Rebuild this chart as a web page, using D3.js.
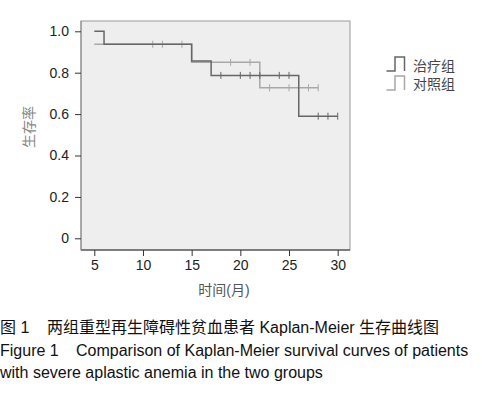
<!DOCTYPE html>
<html><head><meta charset="utf-8">
<script src="https://cdn.jsdelivr.net/npm/d3@7"></script>
<style>body{margin:0;background:#fff}svg{display:block}</style>
</head><body>
<script>
// ---- data ----
const groups = ["治疗组", "对照组"];
const treatStartT = 5, treatEndT = 30;
const treatEventTimes = [6, 15, 17, 26];
const treatSurvival = [1.0, 0.9375, 0.857, 0.787, 0.59];
const treatCensor = [18, 20, 21, 22, 24, 25, 28, 29, 30];
const ctrlStartT = 5, ctrlEndT = 28;
const ctrlEventTimes = [15, 22];
const ctrlSurvival = [0.9375, 0.85, 0.727];
const ctrlCensor = [11, 12, 14, 19, 21, 23, 25, 27, 28];
const xTicks = [5, 10, 15, 20, 25, 30];
const yTicks = [0, 0.2, 0.4, 0.6, 0.8, 1.0];
const yTickLabels = ["0", "0.2", "0.4", "0.6", "0.8", "1.0"];
const xTitle = "时间(月)", yTitle = "生存率";
const caption1a = "图 1", caption1b = "两组重型再生障碍性贫血患者 Kaplan-Meier 生存曲线图";
const caption2a = "Figure 1", caption2b = "Comparison of Kaplan-Meier survival curves of patients";
const caption3 = "with severe aplastic anemia in the two groups";

const W = 482, H = 394;
const svg = d3.select("body").append("svg").attr("width", W).attr("height", H);
const font = "Liberation Sans, Arial, 'Noto Sans CJK SC', sans-serif";

const box = {l: 81, r: 350, t: 21, b: 250};
const x = d3.scaleLinear().domain([5, 30]).range([94.3, 337.7]);
const y = d3.scaleLinear().domain([0, 1]).range([238.3, 31.3]);

svg.append("rect").attr("x", box.l).attr("y", box.t).attr("width", box.r - box.l).attr("height", box.b - box.t)
  .attr("fill", "#eeeeee").attr("stroke", "#9a9a9a").attr("stroke-width", 1);

// axes
const xAxis = svg.append("g").attr("transform", `translate(0,${box.b})`)
  .call(d3.axisBottom(x).tickValues(xTicks).tickSize(6).tickPadding(4).tickFormat(d3.format("d")));
xAxis.select(".domain").attr("d", `M${box.l},0H${box.r}`).attr("stroke", "#333");
const yAxis = svg.append("g").attr("transform", `translate(${box.l},0)`)
  .call(d3.axisLeft(y).tickValues(yTicks).tickSize(6).tickPadding(6).tickFormat((d, i) => yTickLabels[i]));
yAxis.select(".domain").attr("d", `M0,${box.t}V${box.b}`).attr("stroke", "#888");
[xAxis, yAxis].forEach(g => {
  g.selectAll("text").attr("font-family", font).attr("font-size", 14).attr("fill", "#222");
  g.selectAll(".tick line").attr("stroke", "#333");
});

function stepPoints(t0, t1, times, surv) {
  const pts = [[t0, surv[0]]];
  times.forEach((t, i) => { pts.push([t, surv[i]]); pts.push([t, surv[i + 1]]); });
  pts.push([t1, surv[surv.length - 1]]);
  return pts;
}
function survAt(t, times, surv) {
  let s = surv[0];
  times.forEach((tt, i) => { if (t >= tt) s = surv[i + 1]; });
  return s;
}
const line = d3.line().x(d => x(d[0])).y(d => y(d[1]));
const series = [
  {t0: ctrlStartT, t1: ctrlEndT, times: ctrlEventTimes, surv: ctrlSurvival, cens: ctrlCensor, color: "#a8a8a8"},
  {t0: treatStartT, t1: treatEndT, times: treatEventTimes, surv: treatSurvival, cens: treatCensor, color: "#666666"}
];
series.forEach(s => {
  svg.append("path").attr("d", line(stepPoints(s.t0, s.t1, s.times, s.surv)))
    .attr("fill", "none").attr("stroke", s.color).attr("stroke-width", 1.5);
  svg.selectAll(null).data(s.cens).enter().append("line")
    .attr("x1", d => x(d)).attr("x2", d => x(d))
    .attr("y1", d => y(survAt(d, s.times, s.surv)) - 3.5)
    .attr("y2", d => y(survAt(d, s.times, s.surv)) + 3.5)
    .attr("stroke", s.color).attr("stroke-width", 1);
});

// legend
const legColors = ["#666666", "#a8a8a8"];
groups.forEach((g, i) => {
  const yb = 71 + i * 19, yt = yb - 14;
  svg.append("path").attr("d", `M386.5,${yb}H395V${yt}H404.5V${yb}`)
    .attr("fill", "none").attr("stroke", legColors[i]).attr("stroke-width", 1.5);
  svg.append("text").attr("x", 413).attr("y", 71 + i * 17.6).text(g)
    .attr("font-family", font).attr("font-size", 14).attr("fill", "#444");
});

// titles
svg.append("text").attr("x", 224).attr("y", 295).attr("text-anchor", "middle").text(xTitle)
  .attr("font-family", font).attr("font-size", 14).attr("fill", "#555");
svg.append("text").attr("transform", "translate(34,127) rotate(-90)").attr("text-anchor", "middle").text(yTitle)
  .attr("font-family", font).attr("font-size", 14).attr("fill", "#888");

// caption
const cap = [[caption1a, 0, 333], [caption1b, 47, 333], [caption2a, 0, 356], [caption2b, 76, 356], [caption3, 0, 378]];
cap.forEach(c => svg.append("text").attr("x", c[1]).attr("y", c[2]).text(c[0])
  .attr("font-family", font).attr("font-size", 16).attr("fill", "#111"));
</script>
</body></html>
